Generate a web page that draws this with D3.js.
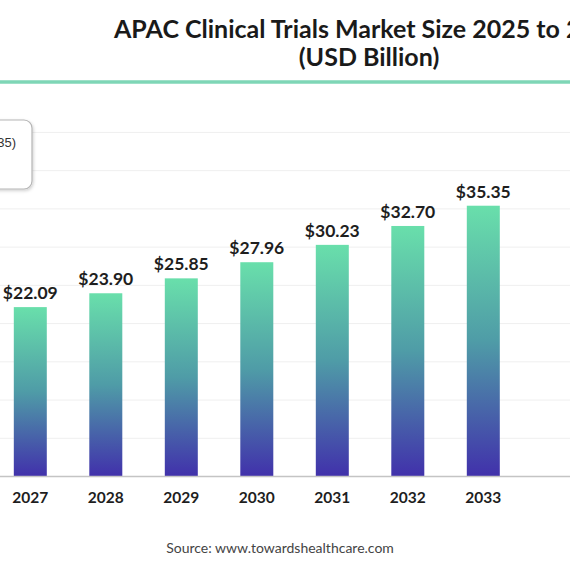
<!DOCTYPE html>
<html>
<head>
<meta charset="utf-8">
<script src="https://cdn.jsdelivr.net/npm/d3@7"></script>
<style>
  html, body { margin: 0; padding: 0; background: #ffffff; }
  svg { display: block; }
</style>
</head>
<body>
<svg id="chart" width="570" height="570"></svg>
<script>
// ---- data ----
const years = ["2027", "2028", "2029", "2030", "2031", "2032", "2033"];
const marketSize = [22.09, 23.90, 25.85, 27.96, 30.23, 32.70, 35.35];
const valueLabels = ["$22.09", "$23.90", "$25.85", "$27.96", "$30.23", "$32.70", "$35.35"];
const gridTicks = [5, 10, 15, 20, 25, 30, 35, 40, 45];
const titleLines = ["APAC Clinical Trials Market Size 2025 to 2034", "(USD Billion)"];
const legendText = "35)";
const sourceText = "Source: www.towardshealthcare.com";

const W = 570, H = 570;
const svg = d3.select("#chart");
const FONT = "Lato, 'Open Sans', sans-serif";

// background
svg.append("rect").attr("width", W).attr("height", H).attr("fill", "#ffffff");

// gradient
const defs = svg.append("defs");
const grad = defs.append("linearGradient").attr("id", "barGrad")
  .attr("x1", 0).attr("y1", 0).attr("x2", 0).attr("y2", 1);
grad.append("stop").attr("offset", "0%").attr("stop-color", "#69dfab");
grad.append("stop").attr("offset", "50%").attr("stop-color", "#4f9ca7");
grad.append("stop").attr("offset", "100%").attr("stop-color", "#4131ab");

const shadow = defs.append("filter").attr("id", "shadow")
  .attr("x", "-20%").attr("y", "-20%").attr("width", "150%").attr("height", "150%");
shadow.append("feDropShadow").attr("dx", 1).attr("dy", 1.5).attr("stdDeviation", 1.5)
  .attr("flood-color", "#000").attr("flood-opacity", 0.18);

// scales
const baseY = 476;
const y = d3.scaleLinear().domain([0, 45]).range([baseY, baseY - 45 * 7.646]);
const step = 75.5;
const x = d3.scaleBand().domain(years)
  .range([30.3 - step / 2, 30.3 - step / 2 + step * years.length])
  .paddingInner(0.563).paddingOuter(0.2815);

// title (the reference is cropped at the right edge)
svg.append("text").attr("x", 369).attr("y", 38)
  .attr("text-anchor", "middle").attr("font-family", FONT).attr("font-weight", 700)
  .attr("font-size", 25).attr("fill", "#1a1a1a").text(titleLines[0]);
svg.append("text").attr("x", 369).attr("y", 66)
  .attr("text-anchor", "middle").attr("font-family", FONT).attr("font-weight", 700)
  .attr("font-size", 25).attr("fill", "#1a1a1a").text(titleLines[1]);

// green rule
svg.append("line").attr("x1", 0).attr("x2", W).attr("y1", 82).attr("y2", 82)
  .attr("stroke", "#7ed6b6").attr("stroke-width", 3.5);

// gridlines
const gridAxis = d3.axisLeft(y).tickValues(gridTicks).tickSize(-W).tickFormat("");
const gG = svg.append("g").call(gridAxis);
gG.select(".domain").remove();
gG.selectAll(".tick line").attr("stroke", "#efefef").attr("stroke-width", 1);

// legend box (cropped at left edge)
svg.append("rect").attr("x", -60).attr("y", 120).attr("width", 92).attr("height", 69)
  .attr("rx", 8).attr("ry", 8).attr("fill", "#ffffff")
  .attr("stroke", "#b5b5b5").attr("stroke-width", 1.2).attr("filter", "url(#shadow)");
svg.append("text").attr("x", 16).attr("y", 147).attr("text-anchor", "end")
  .attr("font-family", "'Liberation Sans', Arial, sans-serif").attr("font-size", 13)
  .attr("fill", "#333").text(legendText);

// bars
svg.append("g").selectAll("rect").data(marketSize).join("rect")
  .attr("x", (d, i) => x(years[i]))
  .attr("width", x.bandwidth())
  .attr("y", d => y(d))
  .attr("height", d => y(0) - y(d))
  .attr("fill", "url(#barGrad)");

// value labels
svg.append("g").selectAll("text").data(marketSize).join("text")
  .attr("x", (d, i) => x(years[i]) + x.bandwidth() / 2)
  .attr("y", d => y(d) - 8)
  .attr("text-anchor", "middle").attr("font-family", FONT).attr("font-weight", 700)
  .attr("font-size", 17.5).attr("fill", "#1e1e1e")
  .text((d, i) => valueLabels[i]);

// x axis
const xAxis = d3.axisBottom(x).tickSize(0).tickPadding(0);
const xG = svg.append("g").attr("transform", `translate(0,${baseY})`).call(xAxis);
xG.select(".domain").remove();
xG.selectAll(".tick text").attr("dy", 0).attr("y", 27)
  .attr("font-family", FONT).attr("font-weight", 700).attr("font-size", 15.5).attr("fill", "#1e1e1e");
svg.append("line").attr("x1", 0).attr("x2", W).attr("y1", baseY + 0.5).attr("y2", baseY + 0.5)
  .attr("stroke", "#c4c4c4").attr("stroke-width", 1.5);

// source
svg.append("text").attr("x", 280).attr("y", 553).attr("text-anchor", "middle")
  .attr("font-family", FONT).attr("font-size", 14).attr("fill", "#444")
  .text(sourceText);
</script>
</body>
</html>
